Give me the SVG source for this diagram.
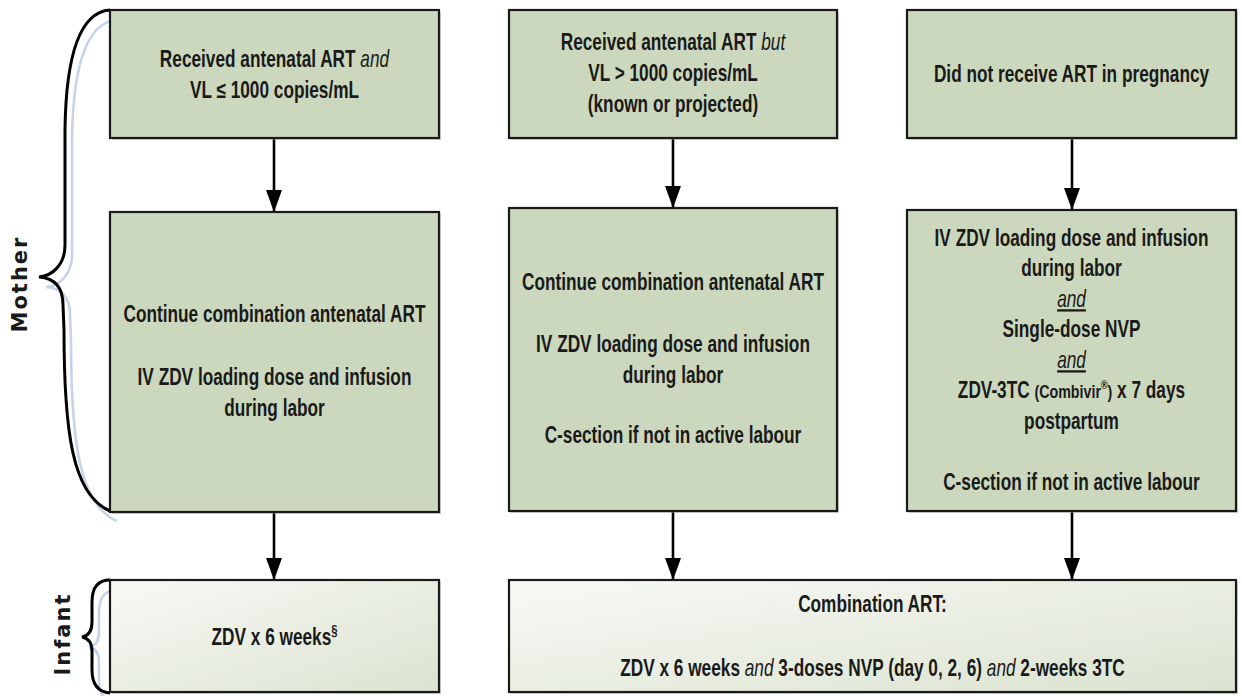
<svg xmlns="http://www.w3.org/2000/svg" width="1242" height="696" viewBox="0 0 1242 696">
<style>
.box{fill:#ccd8bd;stroke:#1a1a1a;stroke-width:2.2}
.boxl{fill:url(#lg);stroke:#1a1a1a;stroke-width:2.2}
.shadow{fill:#9a9a9a;opacity:0.45}
.t{font-family:"Liberation Sans",Arial,sans-serif;font-size:23px;font-weight:bold;fill:#1a1a1a;text-anchor:middle}
.i{font-style:italic;font-weight:normal}
.u{text-decoration:underline}
.side{font-family:"DejaVu Sans",Verdana,sans-serif;font-size:21px;font-weight:bold;fill:#1a1a1a;text-anchor:middle;letter-spacing:2px}
.conn{stroke:#000;stroke-width:2.6;fill:none}
.brace{stroke:#000;stroke-width:3;fill:none}
.braceb{stroke:#c6d3ea;stroke-width:2.6;fill:none}
</style>
<defs>
<marker id="ah" markerUnits="userSpaceOnUse" markerWidth="22" markerHeight="16" refX="22" refY="8" orient="auto" viewBox="0 0 22 16">
<path d="M0,0 L22,8 L0,16 Z" fill="#000"/>
</marker>
<linearGradient id="lg" x1="0" y1="0" x2="1" y2="1">
<stop offset="0" stop-color="#f8f9f6"/>
<stop offset="1" stop-color="#dbe3cf"/>
</linearGradient>
</defs>
<rect width="1242" height="696" fill="#fff"/>

<g id="braces">
<path class="braceb" transform="translate(7,10)" d="M110,10 C82,12 66,50 65,130 L65,245 C65,265 52,276 39,277 C52,278 63,285 63,305 L64,330 C64,430 72,495 110,511"/>
<path class="brace" d="M110,10 C82,12 66,50 65,130 L65,245 C65,265 52,276 39,277 C52,278 63,285 63,305 L64,330 C64,430 72,495 110,511"/>
<path class="braceb" transform="translate(7,10)" d="M110,580 C98,580 92,588 92,602 L92,622 C92,632 88,636 82,637 C88,638 92,642 92,652 L92,670 C92,684 98,692 110,693"/>
<path class="brace" d="M110,580 C98,580 92,588 92,602 L92,622 C92,632 88,636 82,637 C88,638 92,642 92,652 L92,670 C92,684 98,692 110,693"/>
<text class="side" transform="translate(27,284) rotate(-90)">Mother</text>
<text class="side" transform="translate(70,634) rotate(-90)">Infant</text>
</g>

<g id="connectors">
<line class="conn" x1="274" y1="138" x2="274" y2="212" marker-end="url(#ah)"/>
<line class="conn" x1="673" y1="138" x2="673" y2="208" marker-end="url(#ah)"/>
<line class="conn" x1="1072" y1="138" x2="1072" y2="210" marker-end="url(#ah)"/>
<line class="conn" x1="274" y1="512" x2="274" y2="580" marker-end="url(#ah)"/>
<line class="conn" x1="673" y1="511" x2="673" y2="580" marker-end="url(#ah)"/>
<line class="conn" x1="1072" y1="511" x2="1072" y2="580" marker-end="url(#ah)"/>
</g>

<g id="node-arv-suppressed">
<rect class="shadow" x="112" y="12" width="329" height="128"/>
<rect class="box" x="110" y="10" width="329" height="128"/>
<g transform="translate(274.5,0) scale(0.75,1)">
<text class="t" x="0" y="67">Received antenatal ART <tspan class="i">and</tspan></text>
<text class="t" x="0" y="98">VL ≤ 1000 copies/mL</text>
</g>
</g>

<g id="node-arv-high-vl">
<rect class="shadow" x="511" y="12" width="328" height="128"/>
<rect class="box" x="509" y="10" width="328" height="128"/>
<g transform="translate(673,0) scale(0.75,1)">
<text class="t" x="0" y="50">Received antenatal ART <tspan class="i">but</tspan></text>
<text class="t" x="0" y="81">VL &gt; 1000 copies/mL</text>
<text class="t" x="0" y="112">(known or projected)</text>
</g>
</g>

<g id="node-no-art">
<rect class="shadow" x="909" y="12" width="329" height="128"/>
<rect class="box" x="907" y="10" width="329" height="128"/>
<g transform="translate(1071.5,0) scale(0.75,1)">
<text class="t" x="0" y="82">Did not receive ART in pregnancy</text>
</g>
</g>

<g id="node-mother-1">
<rect class="shadow" x="112" y="214" width="329" height="300"/>
<rect class="box" x="110" y="212" width="329" height="300"/>
<g transform="translate(274.5,0) scale(0.75,1)">
<text class="t" x="0" y="322">Continue combination antenatal ART</text>
<text class="t" x="0" y="385">IV ZDV loading dose and infusion</text>
<text class="t" x="0" y="416">during labor</text>
</g>
</g>

<g id="node-mother-2">
<rect class="shadow" x="511" y="210" width="328" height="303"/>
<rect class="box" x="509" y="208" width="328" height="303"/>
<g transform="translate(673,0) scale(0.75,1)">
<text class="t" x="0" y="290">Continue combination antenatal ART</text>
<text class="t" x="0" y="352">IV ZDV loading dose and infusion</text>
<text class="t" x="0" y="383">during labor</text>
<text class="t" x="0" y="443">C-section if not in active labour</text>
</g>
</g>

<g id="node-mother-3">
<rect class="shadow" x="909" y="212" width="329" height="301"/>
<rect class="box" x="907" y="210" width="329" height="301"/>
<g transform="translate(1071.5,0) scale(0.75,1)">
<text class="t" x="0" y="246">IV ZDV loading dose and infusion</text>
<text class="t" x="0" y="276.5">during labor</text>
<text class="t i u" x="0" y="307">and</text>
<text class="t" x="0" y="337.5">Single-dose NVP</text>
<text class="t i u" x="0" y="368">and</text>
<text class="t" x="0" y="398.5">ZDV-3TC <tspan font-size="19">(Combivir</tspan><tspan font-size="12" dy="-9">®</tspan><tspan font-size="19" dy="9">)</tspan> x 7 days</text>
<text class="t" x="0" y="429">postpartum</text>
<text class="t" x="0" y="490">C-section if not in active labour</text>
</g>
</g>

<g id="node-infant-1">
<rect class="shadow" x="112" y="582" width="329" height="112"/>
<rect class="boxl" x="110" y="580" width="329" height="112"/>
<g transform="translate(274.5,0) scale(0.75,1)">
<text class="t" x="0" y="645">ZDV x 6 weeks<tspan font-size="15" dy="-10">§</tspan></text>
</g>
</g>

<g id="node-infant-2">
<rect class="shadow" x="511" y="582" width="727" height="112"/>
<rect class="boxl" x="509" y="580" width="727" height="112"/>
<g transform="translate(872.5,0) scale(0.75,1)">
<text class="t" x="0" y="612">Combination ART:</text>
<text class="t" x="0" y="676">ZDV x 6 weeks <tspan class="i">and</tspan> 3-doses NVP (day 0, 2, 6) <tspan class="i">and</tspan>  2-weeks 3TC</text>
</g>
</g>
</svg>
